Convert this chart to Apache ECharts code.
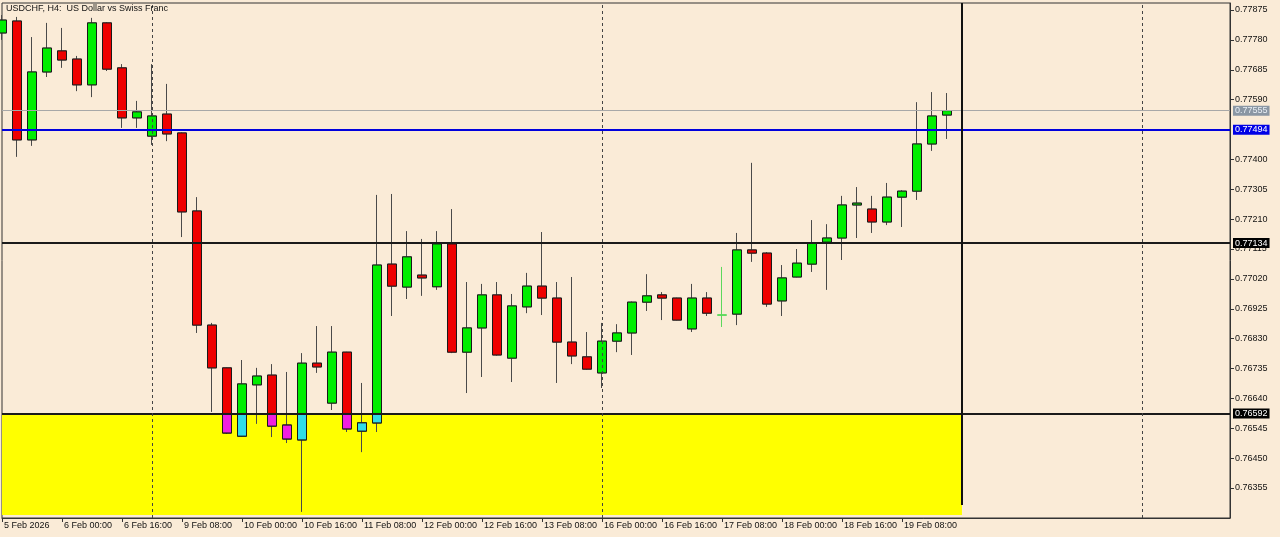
<!DOCTYPE html>
<html>
<head>
<meta charset="utf-8">
<title>USDCHF, H4</title>
<script src="https://cdn.jsdelivr.net/npm/echarts@6/dist/echarts.min.js"></script>
<style>
  html, body { margin: 0; padding: 0; background: #faebd7; }
  #chart { width: 1280px; height: 537px; }
</style>
</head>
<body>
<div id="chart"></div>
<script>
// bar 0 = 5 Feb 08:00, one bar every 4 hours
const opens = [0.77802, 0.77840, 0.77462, 0.77678, 0.77745, 0.77719, 0.77637, 0.77834, 0.77691, 0.77532,
  0.77474, 0.77544, 0.77484, 0.77236, 0.76873, 0.76737, 0.76520, 0.76683, 0.76714, 0.76555,
  0.76508, 0.76752, 0.76625, 0.76787, 0.76536, 0.76562, 0.77067, 0.76994, 0.77032, 0.76995,
  0.77131, 0.76787, 0.76864, 0.76969, 0.76768, 0.76931, 0.76997, 0.76959, 0.76819, 0.76772,
  0.76721, 0.76822, 0.76848, 0.76946, 0.76969, 0.76959, 0.76861, 0.76959, 0.76905, 0.76908,
  0.77112, 0.77102, 0.76950, 0.77026, 0.77067, 0.77137, 0.77150, 0.77255, 0.77242, 0.77201,
  0.77280, 0.77299, 0.77449, 0.77541]
const closes = [0.77843, 0.77462, 0.77678, 0.77754, 0.77716, 0.77637, 0.77834, 0.77687, 0.77532, 0.77551,
  0.77538, 0.77481, 0.77233, 0.76873, 0.76737, 0.76530, 0.76686, 0.76711, 0.76552, 0.76511,
  0.76752, 0.76740, 0.76787, 0.76543, 0.76562, 0.77064, 0.76997, 0.77090, 0.77023, 0.77131,
  0.76787, 0.76864, 0.76969, 0.76778, 0.76934, 0.76997, 0.76959, 0.76819, 0.76775, 0.76733,
  0.76822, 0.76848, 0.76946, 0.76966, 0.76959, 0.76889, 0.76959, 0.76911, 0.76905, 0.77112,
  0.77102, 0.76940, 0.77023, 0.77070, 0.77134, 0.77150, 0.77255, 0.77261, 0.77201, 0.77280,
  0.77299, 0.77449, 0.77538, 0.77555]
const lows = [0.77780, 0.77408, 0.77443, 0.77662, 0.77691, 0.77617, 0.77598, 0.77681, 0.77500, 0.77500,
  0.77446, 0.77458, 0.77153, 0.76848, 0.76597, 0.76527, 0.76518, 0.76559, 0.76517, 0.76498,
  0.76279, 0.76721, 0.76603, 0.76533, 0.76469, 0.76533, 0.76902, 0.76956, 0.76966, 0.76985,
  0.76784, 0.76657, 0.76708, 0.76776, 0.76692, 0.76911, 0.76905, 0.76689, 0.76749, 0.76731,
  0.76673, 0.76787, 0.76778, 0.76918, 0.76889, 0.76888, 0.76851, 0.76902, 0.76867, 0.76873,
  0.77074, 0.76931, 0.76902, 0.77025, 0.77042, 0.76985, 0.77080, 0.77150, 0.77166, 0.77191,
  0.77185, 0.77271, 0.77427, 0.77465]
const highs = [0.77859, 0.77853, 0.77789, 0.77834, 0.77818, 0.77729, 0.77850, 0.77836, 0.77703, 0.77586,
  0.77703, 0.77640, 0.77486, 0.77280, 0.76880, 0.76738, 0.76762, 0.76737, 0.76749, 0.76724,
  0.76784, 0.76870, 0.76870, 0.76788, 0.76689, 0.77287, 0.77290, 0.77172, 0.77147, 0.77172,
  0.77242, 0.77010, 0.77004, 0.77010, 0.76972, 0.77039, 0.77169, 0.77010, 0.77026, 0.76851,
  0.76880, 0.76876, 0.76948, 0.77035, 0.76978, 0.76960, 0.77004, 0.76978, 0.77058, 0.77166,
  0.77389, 0.77105, 0.77064, 0.77115, 0.77207, 0.77194, 0.77284, 0.77312, 0.77284, 0.77325,
  0.77302, 0.77582, 0.77614, 0.77611]

const timeTicks = [0, 4, 8, 12, 16, 20, 24, 28, 32, 36, 40, 44, 48, 52, 56, 60]
const timeLabels = ['5 Feb 2026', '6 Feb 00:00', '6 Feb 16:00', '9 Feb 08:00', '10 Feb 00:00', '10 Feb 16:00',
  '11 Feb 08:00', '12 Feb 00:00', '12 Feb 16:00', '13 Feb 08:00', '16 Feb 00:00', '16 Feb 16:00',
  '17 Feb 08:00', '18 Feb 00:00', '18 Feb 16:00', '19 Feb 08:00']
const priceTicks = [0.77875, 0.77780, 0.77685, 0.77590, 0.77400, 0.77305, 0.77210, 0.77115, 0.77020,
  0.76925, 0.76830, 0.76735, 0.76640, 0.76545, 0.76450, 0.76355]

const bidPrice = 0.77555
const bluePrice = 0.77494
const upperLevel = 0.77134
const lowerLevel = 0.76592
const weekStarts = [10, 40, 76]
const cutBar = 64
const dojiBar = 48

const yMin = 0.762596, yMax = 0.778973
const xMax = 81.87
const font = 'Liberation Sans, Arial, sans-serif'
const upColor = '#00ee00', downColor = '#ee0000'
const magenta = '#f020e0', cyan = '#30dde8'
const dojiColor = '#5cd85c'
const wickColor = '#4a4a4a'

let wickData = [], bodyData = [], zoneData = []
for (let i = 0; i < opens.length; i++) {
  let o = opens[i], c = closes[i]
  let lo = Math.min(o, c), hi = Math.max(o, c)
  let wick = {value: [i, o, c, lows[i], highs[i]]}
  let body = {value: [i, o, c, lo, hi]}
  if (i === dojiBar) {
    let st = {borderColor: dojiColor, borderColor0: dojiColor, borderColorDoji: dojiColor}
    wick.itemStyle = st
    body.itemStyle = st
  }
  wickData.push(wick)
  bodyData.push(body)
  // part of the body inside the yellow box changes colour
  if (lo < lowerLevel) {
    let top = Math.min(hi, lowerLevel)
    let col = c >= o ? cyan : magenta
    zoneData.push({
      value: [i, lo, top, lo, top],
      itemStyle: {color: col, color0: col, borderColor: '#1a1a1a', borderColor0: '#1a1a1a'}
    })
  }
}

function tag(bg, fg) {
  return {
    show: true, position: 'end', distance: 3, formatter: p => Number(p.value).toFixed(5),
    backgroundColor: bg, color: fg, fontSize: 9, fontFamily: font, padding: [1, 2, 0, 2]
  }
}

let chart = echarts.init(document.getElementById('chart'))
chart.setOption({
  backgroundColor: '#faebd7',
  animation: false,
  title: {
    text: 'USDCHF, H4:  US Dollar vs Swiss Franc',
    left: 6, top: 4, padding: 0,
    textStyle: {fontSize: 9, fontWeight: 'normal', color: '#111', fontFamily: font}
  },
  grid: {left: 2, top: 3, width: 1228, height: 515, show: true, borderColor: '#333', borderWidth: 1},
  xAxis: {
    type: 'value', min: 0, max: xMax,
    axisLine: {show: true, onZero: false, lineStyle: {color: '#333'}},
    axisTick: {show: true, length: 4, customValues: timeTicks, lineStyle: {color: '#333'}},
    axisLabel: {
      customValues: timeTicks, formatter: v => timeLabels[timeTicks.indexOf(v)],
      align: 'left', margin: 3, padding: [0, 0, 0, 2], color: '#111', fontSize: 9, fontFamily: font
    },
    splitLine: {show: false}
  },
  yAxis: {
    type: 'value', position: 'right', min: yMin, max: yMax, scale: true,
    axisLine: {show: true, onZero: false, lineStyle: {color: '#333'}},
    axisTick: {show: true, length: 4, customValues: priceTicks, lineStyle: {color: '#333'}},
    axisLabel: {
      customValues: priceTicks, formatter: v => v.toFixed(5),
      margin: 5, color: '#111', fontSize: 9, fontFamily: font
    },
    splitLine: {show: false}
  },
  series: [
    {
      // yellow box + wicks
      type: 'candlestick', barWidth: 9, data: wickData, z: 2,
      itemStyle: {color: 'transparent', color0: 'transparent', borderColor: wickColor, borderColor0: wickColor, borderColorDoji: wickColor, borderWidth: 1},
      markArea: {
        silent: true,
        itemStyle: {color: '#ffff00', opacity: 1},
        data: [[{coord: [0, lowerLevel]}, {coord: [cutBar, 0.76269]}]]
      }
    },
    {
      type: 'candlestick', barWidth: 9, data: bodyData, z: 3,
      itemStyle: {color: upColor, color0: downColor, borderColor: '#1a1a1a', borderColor0: '#1a1a1a', borderColorDoji: '#1a1a1a', borderWidth: 1}
    },
    {
      type: 'candlestick', barWidth: 9, data: zoneData, z: 4,
      itemStyle: {borderWidth: 1}
    },
    {
      type: 'line', data: [], clip: false,
      markLine: {
        silent: true, symbol: 'none', animation: false, precision: 5,
        data: [
          {yAxis: bidPrice, lineStyle: {color: '#a8a8a8', width: 1, type: 'solid'}, label: tag('#8a96a3', '#e8eef4')},
          {yAxis: bluePrice, lineStyle: {color: '#0000dd', width: 2, type: 'solid'}, label: tag('#0000e6', '#ffffff')},
          {yAxis: upperLevel, lineStyle: {color: '#1a1a1a', width: 2, type: 'solid'}, label: tag('#000000', '#ffffff')},
          {yAxis: lowerLevel, lineStyle: {color: '#1a1a1a', width: 2, type: 'solid'}, label: tag('#000000', '#ffffff')},
          ...weekStarts.map(w => ({xAxis: w, lineStyle: {color: '#444', width: 1, type: [3, 3]}, label: {show: false}})),
          [
            {coord: [cutBar, yMax], lineStyle: {color: '#111', width: 2, type: 'solid'}, label: {show: false}},
            {coord: [cutBar, 0.76301]}
          ]
        ]
      }
    }
  ]
})
</script>
</body>
</html>
